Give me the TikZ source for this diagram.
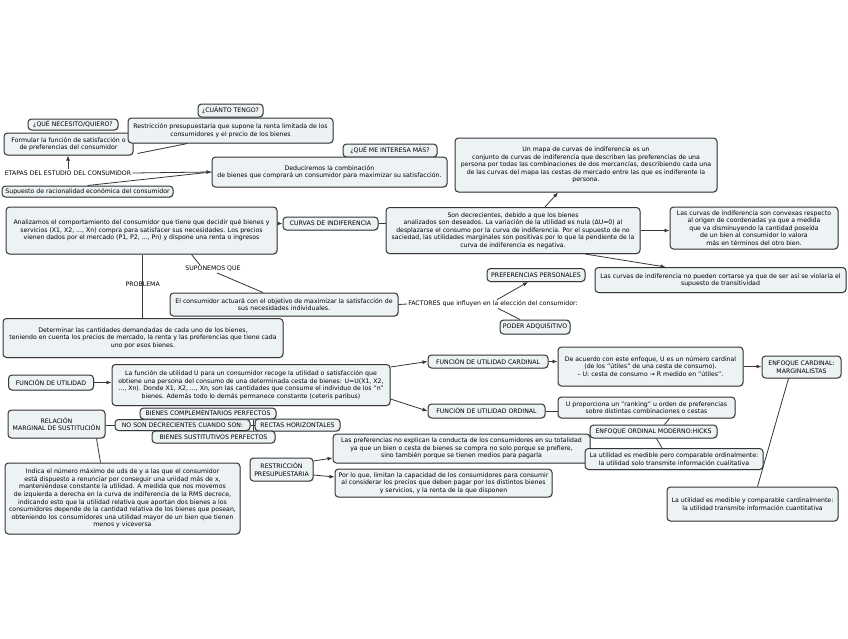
\documentclass[tikz,border=0pt]{standalone}
\usepackage{fontspec}
\setmainfont{DejaVu Sans}
\usetikzlibrary{arrows.meta,shadows}
\definecolor{fondocaja}{RGB}{237,242,244}
\definecolor{bordecaja}{RGB}{55,55,55}
\begin{document}
\begin{tikzpicture}[x=1pt,y=-1pt,
  caja/.style={draw=bordecaja,line width=1pt,rounded corners=3.5pt,fill=fondocaja,align=center,inner sep=1pt,font=\fontsize{6.2}{7.6}\selectfont,
    drop shadow={shadow xshift=0.8pt,shadow yshift=-0.8pt,fill=black!25}},
  rotulo/.style={align=center,inner sep=1pt,font=\fontsize{6.2}{7.6}\selectfont},
  enlace/.style={draw=bordecaja,line width=0.8pt},
  flecha/.style={enlace,-{Latex[length=5pt,width=4pt]}}]
\fill[white] (0,0) rectangle (848,638);
\useasboundingbox (0,0) rectangle (848,638);

\node[caja,minimum width=90pt,minimum height=11pt] (quiero) at (73,124.5) {¿QUÉ NECESITO/QUIERO?};
\node[caja,minimum width=129pt,minimum height=22pt] (formular) at (68.5,144) {Formular la función de satisfacción o\\de preferencias del consumidor};
\node[caja,minimum width=65pt,minimum height=13pt] (cuanto) at (230.5,110.5) {¿CUÁNTO TENGO?};
\node[caja,minimum width=205pt,minimum height=25pt] (restriccion) at (230.5,130.5) {Restricción presupuestaria que supone la renta limitada de los\\consumidores y el precio de los bienes};
\node[caja,minimum width=94pt,minimum height=13pt] (interesa) at (390,150.5) {¿QUÉ ME INTERESA MÁS?};
\node[caja,minimum width=235pt,minimum height=30pt] (deduciremos) at (329.5,172) {Deduciremos la combinación\\de bienes que comprará un consumidor para maximizar su satisfacción.};
\node[rotulo] (etapas) at (68,173) {ETAPAS DEL ESTUDIO DEL CONSUMIDOR};
\node[caja,minimum width=171pt,minimum height=11pt] (supuesto) at (87.5,191.5) {Supuesto de racionalidad económica del consumidor};
\node[caja,minimum width=262pt,minimum height=54pt] (mapa) at (586,165) {Un mapa de curvas de indiferencia es un\\conjunto de curvas de indiferencia que describen las preferencias de una\\persona por todas las combinaciones de dos mercancías, describiendo cada una\\de las curvas del mapa las cestas de mercado entre las que es indiferente la\\persona.};
\node[caja,minimum width=271pt,minimum height=47pt] (analizamos) at (141.5,230.5) {Analizamos el comportamiento del consumidor que tiene que decidir qué bienes y\\servicios (X1, X2, ..., Xn) compra para satisfacer sus necesidades. Los precios\\vienen dados por el mercado (P1, P2, ..., Pn) y dispone una renta o ingresos};
\node[caja,minimum width=95pt,minimum height=13pt] (curvas) at (330.5,223.5) {CURVAS DE INDIFERENCIA};
\node[caja,minimum width=254pt,minimum height=46pt] (decrecientes) at (513,230.5) {Son decrecientes, debido a que los bienes\\analizados son deseados. La variación de la utilidad es nula (ΔU=0) al\\desplazarse el consumo por la curva de indiferencia. Por el supuesto de no\\saciedad, las utilidades marginales son positivas por lo que la pendiente de la\\curva de indiferencia es negativa.};
\node[caja,minimum width=168pt,minimum height=42pt] (convexas) at (754,228) {Las curvas de indiferencia son convexas respecto\\al origen de coordenadas ya que a medida\\que va disminuyendo la cantidad poseída\\de un bien al consumidor lo valora\\más en términos del otro bien.};
\node[caja,minimum width=251pt,minimum height=25pt] (cortarse) at (720.5,280) {Las curvas de indiferencia no pueden cortarse ya que de ser así se violaría el\\supuesto de transitividad};
\node[rotulo] (suponemos) at (213,269) {SUPONEMOS QUE};
\node[caja,minimum width=228pt,minimum height=23pt] (actuara) at (284,304.5) {El consumidor actuará con el objetivo de maximizar la satisfacción de\\sus necesidades individuales.};
\node[rotulo] (factores) at (493,304) {FACTORES que influyen en la elección del consumidor:};
\node[caja,minimum width=98pt,minimum height=13pt] (preferencias) at (536,275) {PREFERENCIAS PERSONALES};
\node[caja,minimum width=70pt,minimum height=14pt] (poder) at (535,327) {PODER ADQUISITIVO};
\node[rotulo] (problema) at (142.7,284) {PROBLEMA};
\node[caja,minimum width=280pt,minimum height=39pt] (determinar) at (143,338) {Determinar las cantidades demandadas de cada uno de los bienes,\\teniendo en cuenta los precios de mercado, la renta y las preferencias que tiene cada\\uno por esos bienes.};
\node[caja,minimum width=85pt,minimum height=15pt] (funcion) at (51,382.5) {FUNCIÓN DE UTILIDAD};
\node[caja,minimum width=278pt,minimum height=41pt] (funciondef) at (251,385) {La función de utilidad U para un consumidor recoge la utilidad o satisfacción que\\obtiene una persona del consumo de una determinada cesta de bienes: U=U(X1, X2,\\..., Xn). Donde X1, X2, ..., Xn, son las cantidades que consume el individuo de los "n"\\bienes. Además todo lo demás permanece constante (ceteris paribus)};
\node[caja,minimum width=120pt,minimum height=13pt] (cardinal) at (488,361.5) {FUNCIÓN DE UTILIDAD CARDINAL};
\node[caja,minimum width=185pt,minimum height=39pt] (deacuerdo) at (650.5,366.5) {De acuerdo con este enfoque, U es un número cardinal\\(de los "útiles" de una cesta de consumo).\\– U: cesta de consumo → R medido en "útiles".};
\node[caja,minimum width=79pt,minimum height=22pt] (enfcardinal) at (801.5,367) {ENFOQUE CARDINAL:\\MARGINALISTAS};
\node[caja,minimum width=171pt,minimum height=34pt] (cardmedible) at (752.5,504) {La utilidad es medible y comparable cardinalmente:\\la utilidad transmite información cuantitativa};
\node[caja,minimum width=117pt,minimum height=14pt] (ordinal) at (486.5,411) {FUNCIÓN DE UTILIDAD ORDINAL};
\node[caja,minimum width=177pt,minimum height=21pt] (ranking) at (646.5,407.5) {U proporciona un "ranking" u orden de preferencias\\sobre distintas combinaciones o cestas};
\node[caja,minimum width=127pt,minimum height=13pt] (hicks) at (653.5,431.5) {ENFOQUE ORDINAL MODERNO:HICKS};
\node[caja,minimum width=97pt,minimum height=28pt] (rms) at (56.5,424) {RELACIÓN\\MARGINAL DE SUSTITUCIÓN};
\node[caja,minimum width=135pt,minimum height=11pt] (nosondecr) at (182.5,425) {NO SON DECRECIENTES CUANDO SON:};
\node[caja,minimum width=136pt,minimum height=11pt] (complementarios) at (208,413.5) {BIENES COMPLEMENTARIOS PERFECTOS};
\node[caja,minimum width=85pt,minimum height=12pt] (rectas) at (297.5,425) {RECTAS HORIZONTALES};
\node[caja,minimum width=123pt,minimum height=12pt] (sustitutivos) at (213.5,437) {BIENES SUSTITUTIVOS PERFECTOS};
\node[caja,minimum width=235pt,minimum height=71pt] (indica) at (122.5,498.5) {Indica el número máximo de uds de y a las que el consumidor\\está dispuesto a renunciar por conseguir una unidad más de x,\\manteniéndose constante la utilidad. A medida que nos movemos\\de izquierda a derecha en la curva de indiferencia de la RMS decrece,\\indicando esto que la utilidad relativa que aportan dos bienes a los\\consumidores depende de la cantidad relativa de los bienes que posean,\\obteniendo los consumidores una utilidad mayor de un bien que tienen\\menos y viceversa};
\node[caja,minimum width=63pt,minimum height=23pt] (restrpresu) at (281.5,469.5) {RESTRICCIÓN\\PRESUPUESTARIA};
\node[caja,minimum width=257pt,minimum height=29pt] (noexplican) at (461.5,448.5) {Las preferencias no explican la conducta de los consumidores en su totalidad\\ya que un bien o cesta de bienes se compra no solo porque se prefiere,\\sino también porque se tienen medios para pagarla};
\node[caja,minimum width=178pt,minimum height=21pt] (ordmedible) at (674,459) {La utilidad es medible pero comparable ordinalmente:\\la utilidad solo transmite información cualitativa};
\node[caja,minimum width=217pt,minimum height=28pt] (porloque) at (443.5,483) {Por lo que, limitan la capacidad de los consumidores para consumir\\al considerar los precios que deben pagar por los distintos bienes\\y servicios, y la renta de la que disponen};
\coordinate (nudo) at ([xshift=2.5pt]nosondecr.east);

\draw[flecha] (etapas.north) -- (etapas.north |- formular.south);
\draw[flecha] (etapas.east) -- (deduciremos.west);
\draw[enlace] ([xshift=4pt,yshift=2pt]formular.south east) -- ([xshift=-43pt]restriccion.south);
\draw[enlace] (supuesto.north) -- (deduciremos.west);
\draw[flecha] (analizamos.east |- curvas.west) -- (curvas.west);
\draw[enlace] (curvas.east) -- (curvas.east -| decrecientes.west);
\draw[flecha] ([xshift=32pt]decrecientes.north) -- ([xshift=-28pt]mapa.south);
\draw[flecha] (decrecientes.east) -- (decrecientes.east -| convexas.west);
\draw[flecha] ([xshift=72pt]decrecientes.south) -- ([xshift=-55pt]cortarse.north);
\draw[enlace] ([xshift=50pt]analizamos.south) -- ([xshift=-13pt]suponemos.north);
\draw[enlace] ([xshift=4pt]suponemos.south) -- ([xshift=-21pt]actuara.north);
\draw[enlace] (problema |- analizamos.south) -- (problema |- determinar.north);
\draw[enlace] (actuara.east) -- (factores.west);
\draw[flecha] ([xshift=4pt]factores.north) -- ([xshift=-8pt]preferencias.south);
\draw[enlace] ([xshift=5pt]factores.south) -- ([xshift=-15pt]poder.north);
\draw[flecha] (funcion.east) -- (funcion.east -| funciondef.west);
\draw[flecha] ([yshift=-3pt]funciondef.north east) -- (cardinal.west);
\draw[flecha] ([yshift=7pt]funciondef.south east) -- (ordinal.west);
\draw[flecha] (cardinal.east) -- (cardinal.east -| deacuerdo.west);
\draw[flecha] (deacuerdo.east) -- (deacuerdo.east -| enfcardinal.west);
\draw[enlace] ([xshift=-13pt]enfcardinal.south) -- ([xshift=5pt]cardmedible.north);
\draw[enlace] (ordinal.east) -- (ordinal.east -| ranking.west);
\draw[enlace] ([xshift=23pt]ranking.south) -- ([xshift=11pt]hicks.north);
\draw[enlace] ([xshift=3pt]hicks.south) -- ([xshift=-12pt]ordmedible.north);
\draw[enlace] (rms.east |- nosondecr.west) -- (nosondecr.west);
\draw[enlace] (nosondecr.east) -- (rectas.west);
\draw[enlace] (nudo |- complementarios.south) -- (nudo |- sustitutivos.north);
\draw[enlace] ([xshift=40pt]rms.south) -- ([xshift=-22pt]indica.north);
\draw[flecha] ([yshift=8.5pt]restrpresu.east) -- ([yshift=-9.5pt]noexplican.west);
\draw[flecha] ([yshift=-5.5pt]restrpresu.east) -- ([yshift=6pt]porloque.west);
\end{tikzpicture}
\end{document}
